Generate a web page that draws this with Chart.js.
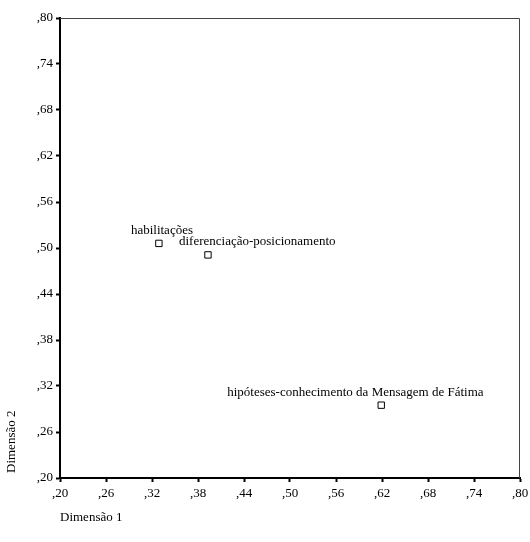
<!DOCTYPE html>
<html>
<head>
<meta charset="utf-8">
<script src="https://cdn.jsdelivr.net/npm/chart.js@4/dist/chart.umd.min.js"></script>
<style>
  html, body { margin: 0; padding: 0; background: #fff; }
  #wrap { width: 530px; height: 542px; }
</style>
</head>
<body>
<div id="wrap"><canvas id="myChart"></canvas></div>
<script>
// data
var labels = ['habilitações', 'diferenciação-posicionamento', 'hipóteses-conhecimento da Mensagem de Fátima'];
var dim1 = [0.329, 0.393, 0.619];
var dim2 = [0.506, 0.491, 0.295];
var xTitle = 'Dimensão 1';
var yTitle = 'Dimensão 2';
// where each label sits relative to its point (px)
var labelDx = [-28, -29, -154];
var labelDy = [-13, -13, -13];

var serif = "'Liberation Serif', 'Times New Roman', serif";
var fsize = 13;

function fmt(v) {
    return v.toFixed(2).replace('0.', ',');
}

var pts = [];
for (var i = 0; i < labels.length; i++) {
    pts.push({ x: dim1[i], y: dim2[i] });
}

// box round the plot, axis titles, point labels
var extras = {
    id: 'extras',
    afterDraw: function(chart) {
        var c = chart.ctx, a = chart.chartArea;
        c.save();
        c.strokeStyle = '#444';
        c.lineWidth = 1;
        c.beginPath();
        c.moveTo(a.left, a.top + 0.5);
        c.lineTo(a.right - 0.5, a.top + 0.5);
        c.lineTo(a.right - 0.5, a.bottom);
        c.stroke();

        c.font = fsize + 'px ' + serif;
        c.fillStyle = '#000';
        c.textBaseline = 'middle';
        c.textAlign = 'left';
        var meta = chart.getDatasetMeta(0);
        meta.data.forEach(function(p, i) {
            c.fillText(labels[i], p.x + labelDx[i], p.y + labelDy[i]);
        });

        c.fillText(xTitle, a.left, a.bottom + 40);

        c.translate(12, a.bottom - 5);
        c.rotate(-Math.PI / 2);
        c.fillText(yTitle, 0, 0);
        c.restore();
    }
};

const ctx = document.getElementById('myChart');
var chart = new Chart(ctx, {
    type: 'scatter',
    data: {
        datasets: [{
            data: pts,
            pointStyle: 'rect',
            pointRadius: 4.5,
            pointHoverRadius: 4.5,
            pointBackgroundColor: '#fff',
            pointBorderColor: '#000',
            pointBorderWidth: 1
        }]
    },
    options: {
        responsive: true,
        maintainAspectRatio: false,
        animation: false,
        layout: { padding: { top: 18, right: 10, left: 0, bottom: 0 } },
        plugins: { legend: { display: false }, tooltip: { enabled: false } },
        scales: {
            x: {
                min: 0.2, max: 0.8,
                border: { display: true, color: '#000', width: 2 },
                grid: { display: true, drawOnChartArea: false, tickLength: 4, color: '#000', tickWidth: 2 },
                ticks: {
                    stepSize: 0.06, color: '#000', padding: 4, maxRotation: 0,
                    font: { family: serif, size: fsize },
                    callback: function(v) { return fmt(v); }
                },
                afterFit: function(s) {
                    s.height = 64;
                    s.paddingRight = 0;
                    s.paddingLeft = 0;
                }
            },
            y: {
                min: 0.2, max: 0.8,
                border: { display: true, color: '#000', width: 2 },
                grid: { display: true, drawOnChartArea: false, tickLength: 4, color: '#000', tickWidth: 2 },
                ticks: {
                    stepSize: 0.06, color: '#000', padding: 3,
                    font: { family: serif, size: fsize },
                    callback: function(v) { return fmt(v); }
                },
                afterFit: function(s) { s.width = 60; }
            }
        }
    },
    plugins: [extras]
});
</script>
</body>
</html>
